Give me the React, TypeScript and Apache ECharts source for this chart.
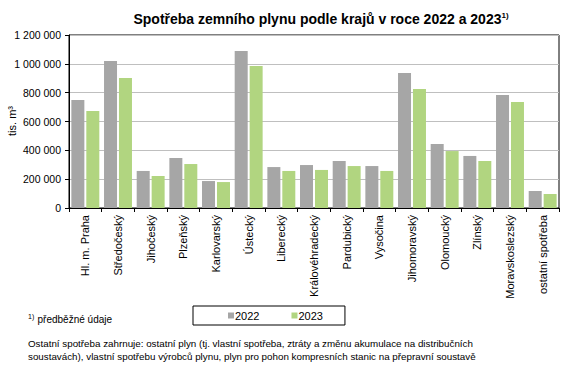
import React, { useEffect, useRef } from "react";
import * as echarts from "echarts";

const categories = [
  "Hl. m. Praha",
  "Středočeský",
  "Jihočeský",
  "Plzeňský",
  "Karlovarský",
  "Ústecký",
  "Liberecký",
  "Královéhradecký",
  "Pardubický",
  "Vysočina",
  "Jihomoravský",
  "Olomoucký",
  "Zlínský",
  "Moravskoslezský",
  "ostatní spotřeba",
];
const values2022 = [750000, 1020000, 257000, 347000, 187000, 1089000, 284000, 298000, 326000, 291000, 936000, 444000, 361000, 784000, 118000];
const values2023 = [673000, 902000, 222000, 305000, 180000, 985000, 257000, 264000, 291000, 257000, 825000, 395000, 326000, 735000, 97000];
const seriesNames = ["2022", "2023"];
const titleText = "Spotřeba zemního plynu podle krajů v roce 2022 a 2023";
const yAxisName = "tis. m³";
const noteLine1 = "Ostatní spotřeba zahrnuje: ostatní plyn (tj. vlastní spotřeba, ztráty a změnu akumulace na distribučních";
const noteLine2 = "soustavách), vlastní spotřebu výrobců plynu, plyn pro pohon kompresních stanic na přepravní soustavě";

const FONT = "'Liberation Sans', Arial, sans-serif";

export default function App() {
  const ref = useRef<HTMLDivElement>(null);
  useEffect(() => {
    if (!ref.current) return;
    const chart = echarts.init(ref.current, undefined, { renderer: "svg" });
    chart.setOption({
      animation: false,
      backgroundColor: "#fff",
      textStyle: { fontFamily: FONT },
      title: {
        text: "{a|" + titleText + "}{b|1)}",
        left: 316,
        textAlign: "center",
        top: 6,
        textStyle: {
          rich: {
            a: { fontFamily: FONT, fontSize: 14, fontWeight: "bold", color: "#000" },
            b: { fontFamily: FONT, fontSize: 8, color: "#000", verticalAlign: "top", lineHeight: 16 },
          },
        },
      },
      legend: {
        left: 193,
        top: 306,
        orient: "horizontal",
        borderColor: "#000",
        borderWidth: 1,
        padding: [4, 22, 4, 35],
        itemWidth: 6,
        itemHeight: 6,
        itemGap: 32,
        icon: "rect",
        textStyle: { fontFamily: FONT, fontSize: 11, color: "#000", padding: [0, 0, 0, -4] },
        data: seriesNames,
      },
      grid: {
        left: 69,
        right: 7,
        top: 35,
        bottom: 157,
        show: true,
        borderColor: "#000",
        borderWidth: 1,
        containLabel: false,
        outerBoundsMode: "none",
      },
      xAxis: {
        type: "category",
        data: categories,
        axisLine: { lineStyle: { color: "#000" } },
        axisTick: { show: true, length: 4, lineStyle: { color: "#000" } },
        axisLabel: {
          rotate: 90,
          interval: 0,
          fontFamily: FONT,
          fontSize: 11,
          color: "#000",
          margin: 7,
        },
      },
      yAxis: {
        type: "value",
        min: 0,
        max: 1200000,
        interval: 200000,
        axisLine: { show: true, lineStyle: { color: "#000" } },
        axisTick: { show: true, length: 4, lineStyle: { color: "#000" } },
        splitLine: { lineStyle: { color: "#bfbfbf" } },
        axisLabel: {
          fontFamily: FONT,
          fontSize: 10.5,
          color: "#000",
          margin: 8,
          formatter: (v: number) => String(v).replace(/\B(?=(\d{3})+(?!\d))/g, " "),
        },
      },
      series: [
        {
          name: seriesNames[0],
          type: "bar",
          data: values2022,
          barWidth: 13,
          barGap: "15%",
          itemStyle: { color: "#a6a6a6" },
        },
        {
          name: seriesNames[1],
          type: "bar",
          data: values2023,
          barWidth: 13,
          barGap: "15%",
          itemStyle: { color: "#b1d580" },
        },
      ],
      graphic: [
        {
          type: "text",
          x: 12,
          y: 121,
          rotation: Math.PI / 2,
          style: {
            text: yAxisName,
            fontFamily: FONT,
            fontSize: 11,
            fill: "#000",
            align: "center",
            verticalAlign: "middle",
          },
        },
        {
          type: "text",
          left: 28,
          top: 313,
          style: {
            text: "{s|1)} {t|předběžné údaje}",
            rich: {
              s: { fontFamily: FONT, fontSize: 7, fill: "#000", verticalAlign: "top" },
              t: { fontFamily: FONT, fontSize: 10, fill: "#000" },
            },
          },
        },
        {
          type: "text",
          left: 28,
          top: 337,
          style: {
            text: noteLine1 + "\n" + noteLine2,
            fontFamily: FONT,
            fontSize: 9.8,
            lineHeight: 13,
            fill: "#000",
          },
        },
      ],
    });
    return () => chart.dispose();
  }, []);
  return <div ref={ref} style={{ width: 566, height: 365, position: "absolute", left: 0, top: 0 }} />;
}
